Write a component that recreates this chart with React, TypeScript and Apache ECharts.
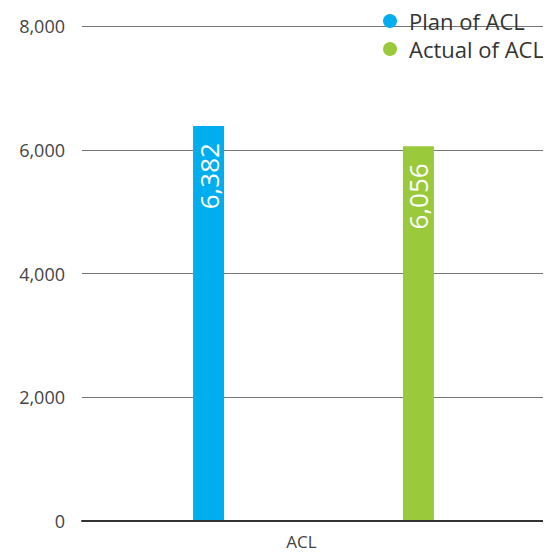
import React, { useEffect, useRef } from "react";
import * as echarts from "echarts";

const categories = ["ACL"];
const planValues = [6382];
const actualValues = [6056];
const seriesNames = ["Plan of ACL", "Actual of ACL"];
const colors = ["#00AEEF", "#9ACA3C"];

export default function App() {
  const ref = useRef<HTMLDivElement>(null);
  useEffect(() => {
    if (!ref.current) return;
    const chart = echarts.init(ref.current, null, { renderer: "svg" });
    const font = "'Open Sans', 'Noto Sans', sans-serif";
    const label = {
      show: true,
      position: "insideTop",
      rotate: 90,
      align: "right",
      verticalAlign: "middle",
      distance: 17,
      color: "#fff",
      fontSize: 26,
      fontFamily: font,
      formatter: (p: any) => p.value.toLocaleString("en-US"),
    };
    chart.setOption({
      animation: false,
      textStyle: { fontFamily: font },
      legend: {
        orient: "vertical",
        left: 378,
        top: 5,
        itemGap: 6,
        icon: "circle",
        itemWidth: 14,
        itemHeight: 14,
        textStyle: { fontSize: 22, color: "#333", fontFamily: font, padding: [0, 0, 0, 7] },
        data: seriesNames,
      },
      grid: { left: 82, right: 6, top: 26, bottom: 35, containLabel: false },
      xAxis: {
        type: "category",
        data: categories,
        axisLine: { show: true, lineStyle: { color: "#333", width: 2 } },
        axisTick: { show: false },
        axisLabel: { color: "#444", fontSize: 17, margin: 12, fontFamily: font, padding: [0, 24, 0, 0] },
        z: 10,
      },
      yAxis: {
        type: "value",
        min: 0,
        max: 8000,
        interval: 2000,
        axisLine: { show: false },
        axisTick: { show: false },
        axisLabel: {
          color: "#444",
          fontSize: 18,
          margin: 17,
          fontFamily: font,
          formatter: (v: number) => v.toLocaleString("en-US"),
        },
        splitLine: { lineStyle: { color: "#777", width: 1 } },
      },
      series: [
        {
          name: seriesNames[0],
          type: "bar",
          data: planValues,
          barWidth: 31,
          barGap: "577%",
          itemStyle: { color: colors[0] },
          label,
        },
        {
          name: seriesNames[1],
          type: "bar",
          data: actualValues,
          barWidth: 31,
          itemStyle: { color: colors[1] },
          label,
        },
      ],
    });
    return () => chart.dispose();
  }, []);
  return <div ref={ref} style={{ width: 551, height: 556, margin: -8 }} />;
}
